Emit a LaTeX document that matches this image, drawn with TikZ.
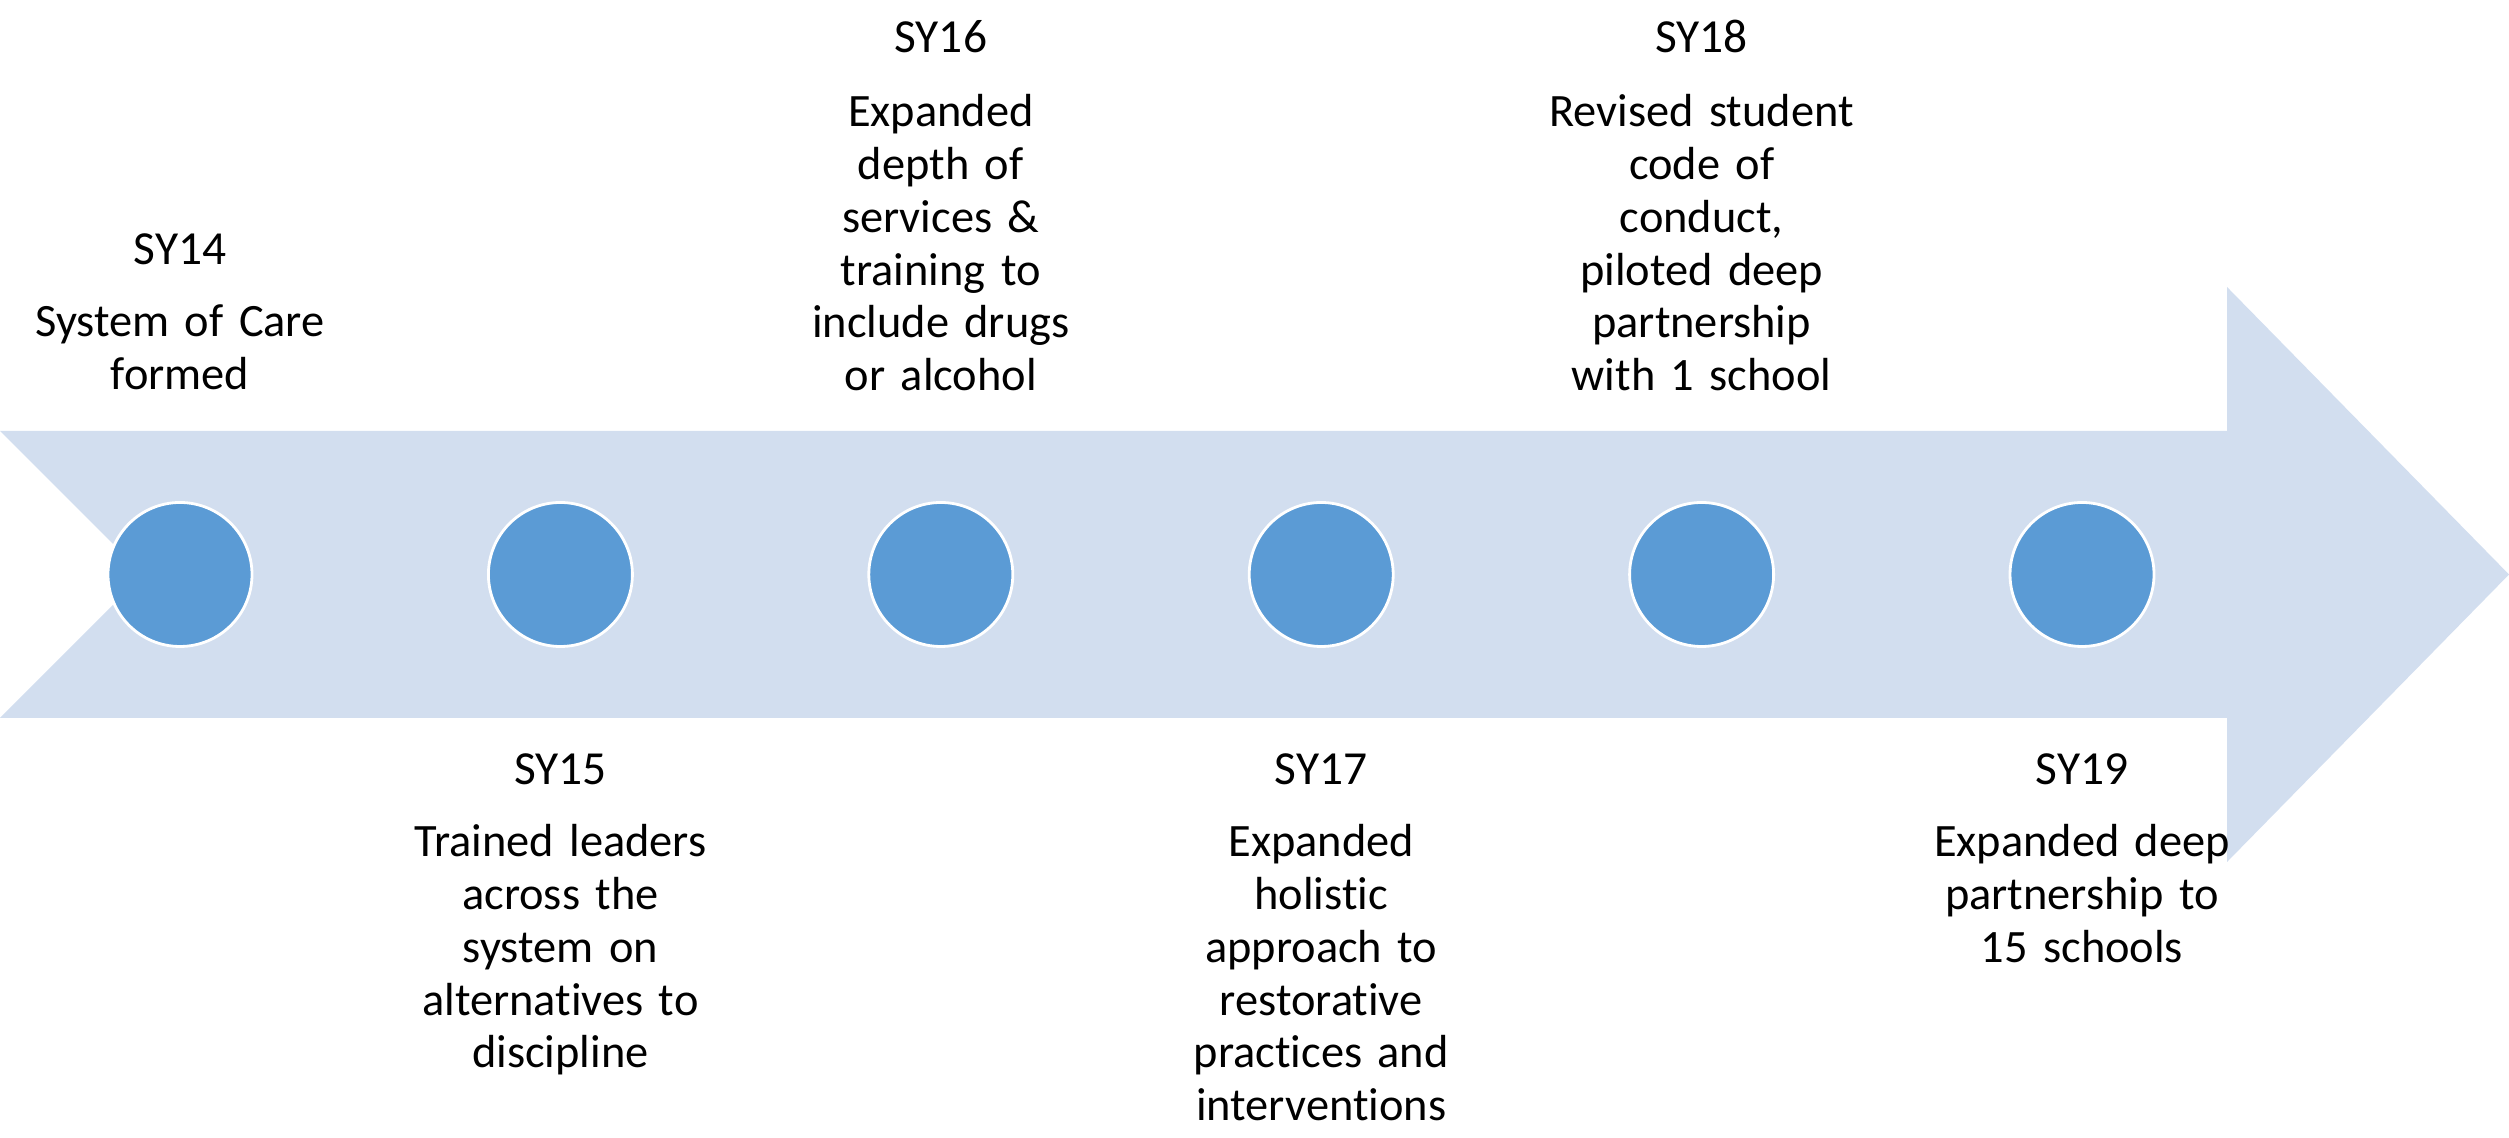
\documentclass[tikz,border=0pt]{standalone}
\usepackage{fontspec}
\setmainfont{Carlito}[Ligatures=NoCommon]
\definecolor{bandblue}{HTML}{D2DEEF}
\definecolor{dotblue}{HTML}{5B9BD5}
\begin{document}
\begin{tikzpicture}[x=1cm,y=1cm,
  band/.style={fill=bandblue, draw=none},
  milestone/.style={circle, fill=dotblue, draw=white, line width=0.8pt,
    minimum size=1.44cm, inner sep=0pt},
  yeartitle/.style={font=\fontsize{13.5}{15}\selectfont, inner sep=0pt, anchor=base},
  detail/.style={font=\fontsize{13.2}{15}\selectfont, text width=5cm, align=center,
    inner sep=0pt, anchor=base}]

\useasboundingbox (0,0) rectangle (25.09,11.38);

% timeline arrow: notched tail on the left, head on the right
\fill[band] (0,7.07) -- (22.27,7.07) -- (22.27,8.51) -- (25.09,5.635)
  -- (22.27,2.76) -- (22.27,4.20) -- (0,4.20) -- (1.435,5.635) -- cycle;

% milestones
\foreach \name/\x in {c14/1.80, c15/5.604, c16/9.408, c17/13.212, c18/17.016, c19/20.82}
  \node[milestone] (\name) at (\x,5.635) {};

% labels above the arrow
\node[yeartitle] (t14) at (1.80,8.73) {SY14};
\node[detail] (b14) at (1.80,8.01) {System of Care\\formed};

\node[yeartitle] (t16) at (9.408,10.85) {SY16};
\node[detail] (b16) at (9.408,10.11) {Expanded\\depth of\\services \&\\training to\\include drugs\\or alcohol};

\node[yeartitle] (t18) at (17.016,10.85) {SY18};
\node[detail] (b18) at (17.016,10.11) {Revised student\\code of\\conduct,\\piloted deep\\partnership\\with 1 school};

% labels below the arrow
\node[yeartitle] (t15) at (5.604,3.53) {SY15};
\node[detail] (b15) at (5.604,2.81) {Trained leaders\\across the\\system on\\alternatives to\\discipline};

\node[yeartitle] (t17) at (13.212,3.53) {SY17};
\node[detail] (b17) at (13.212,2.81) {Expanded\\holistic\\approach to\\restorative\\practices and\\interventions};

\node[yeartitle] (t19) at (20.82,3.53) {SY19};
\node[detail] (b19) at (20.82,2.81) {Expanded deep\\partnership to\\15 schools};
\end{tikzpicture}
\end{document}
